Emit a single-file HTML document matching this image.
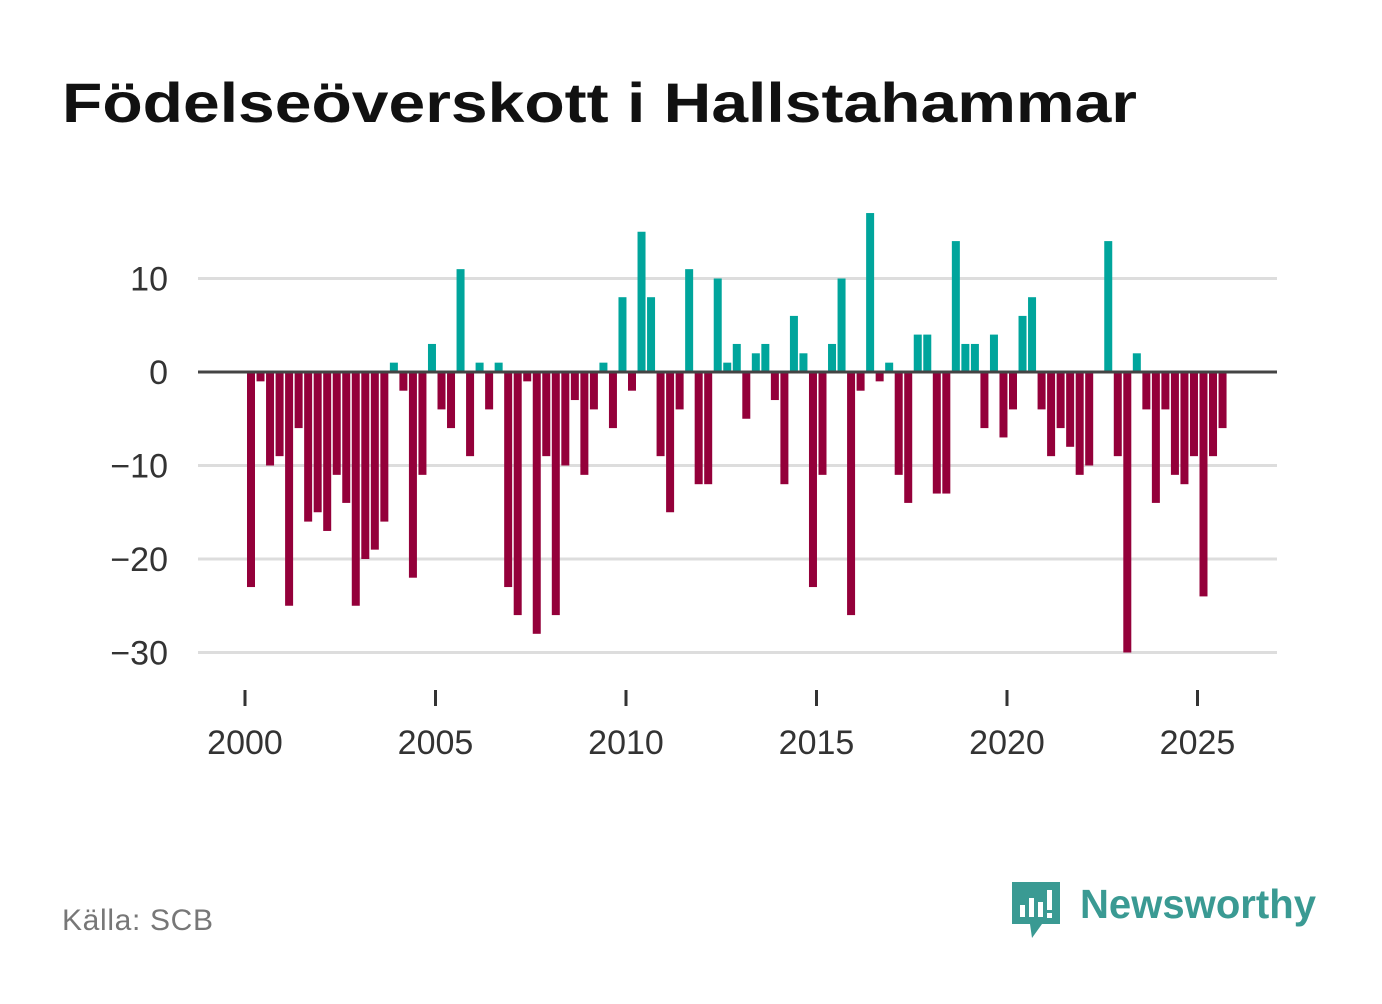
<!DOCTYPE html>
<html><head><meta charset="utf-8"><style>
body{margin:0;width:1382px;height:999px;background:#fff;font-family:"Liberation Sans",sans-serif;overflow:hidden}
</style></head><body>
<svg width="1382" height="999">
<text x="62" y="122" font-size="56" font-weight="bold" fill="#111" textLength="1075" lengthAdjust="spacingAndGlyphs">Födelseöverskott i Hallstahammar</text>
<g id="grid"></g><g id="bars"></g><g id="xaxis"></g>
<text x="62" y="930" font-size="30" fill="#777" textLength="151">Källa: SCB</text>
<g>
<path d="M1012 882 h48 v42 h-18 l-10 14 l-2 -14 h-18 z" fill="#3a9a93"/>
<rect x="1020" y="905" width="5" height="12" fill="#fff"/><rect x="1029" y="898" width="5" height="19" fill="#fff"/><rect x="1038" y="902" width="5" height="15" fill="#fff"/><rect x="1047" y="890" width="5" height="20" fill="#fff"/><rect x="1047" y="913" width="5" height="5" fill="#fff"/>
<text x="1080" y="918" font-size="41" font-weight="bold" fill="#3a9a93" textLength="236" lengthAdjust="spacingAndGlyphs">Newsworthy</text>
</g>
</svg>
<script>
const values=[-23,-1,-10,-9,-25,-6,-16,-15,-17,-11,-14,-25,-20,-19,-16,1,-2,-22,-11,3,-4,-6,11,-9,1,-4,1,-23,-26,-1,-28,-9,-26,-10,-3,-11,-4,1,-6,8,-2,15,8,-9,-15,-4,11,-12,-12,10,1,3,-5,2,3,-3,-12,6,2,-23,-11,3,10,-26,-2,17,-1,1,-11,-14,4,4,-13,-13,14,3,3,-6,4,-7,-4,6,8,-4,-9,-6,-8,-11,-10,0,14,-9,-30,2,-4,-14,-4,-11,-12,-9,-24,-9,-6];
const startYear=2000;
const yTicks=[10,0,-10,-20,-30];
const xTicks=[2000,2005,2010,2015,2020,2025];
const NS='http://www.w3.org/2000/svg';
const y=v=>372-v*9.35;
const xYear=t=>245+(t-2000)*38.1;
function mk(tag,attrs,parent){const e=document.createElementNS(NS,tag);for(const k in attrs)e.setAttribute(k,attrs[k]);document.getElementById(parent).appendChild(e);return e;}
yTicks.forEach(t=>{
 const l=mk('line',{x1:198,x2:1277,y1:y(t),y2:y(t),stroke:t===0?'#444':'#ddd','stroke-width':3},'grid');
 
 
 const tx=mk('text',{x:168,y:y(t)+12,'text-anchor':'end','font-size':34,fill:'#333'},'grid');
 tx.textContent=t<0?'\u2212'+Math.abs(t):String(t);
 
 
});
values.forEach((v,i)=>{
 const x0=xYear(startYear+i/4)+2;
 const r=mk('rect',{x:x0,width:8,y:Math.min(y(v),y(0)),height:Math.abs(y(v)-y(0)),fill:v>=0?'#00a59c':'#94003a'},'bars');
 
 
});
const z=document.querySelector('#grid line:nth-of-type(2)');document.getElementById('bars').after(z);
xTicks.forEach(t=>{
 const l=mk('line',{x1:xYear(t),x2:xYear(t),y1:690,y2:706,stroke:'#333','stroke-width':3},'xaxis');
 
 
 const tx=mk('text',{x:xYear(t),y:754,'text-anchor':'middle','font-size':34,fill:'#333'},'xaxis');
 tx.textContent=t;
 
 
});
</script>
</body></html>
